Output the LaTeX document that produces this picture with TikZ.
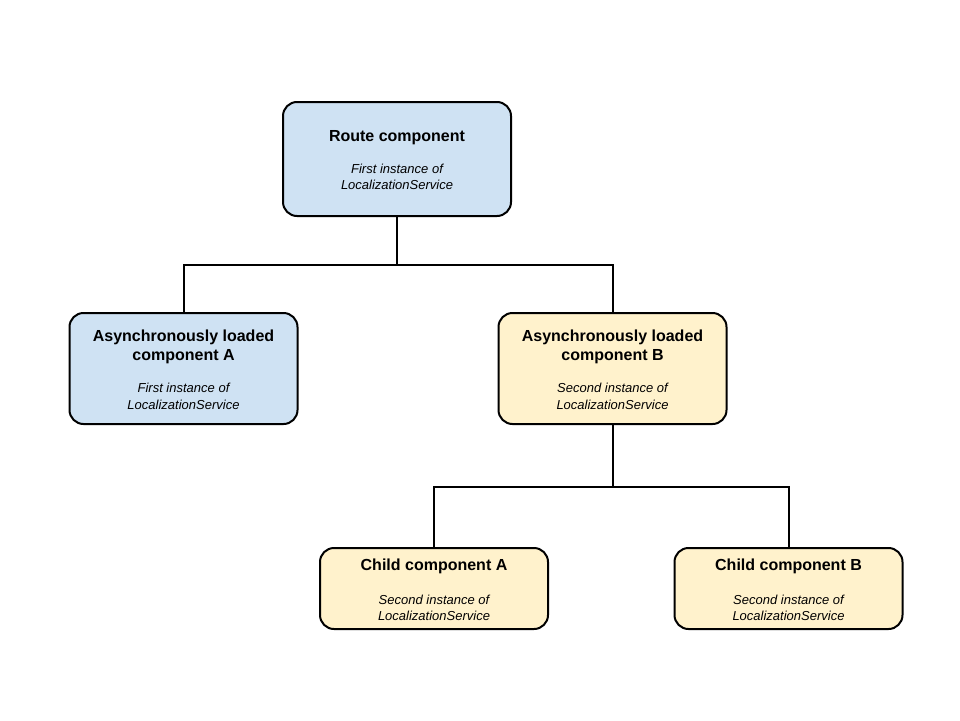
\documentclass[tikz,border=0pt]{standalone}
\usepackage{fontspec}
\setmainfont{Liberation Sans}
\definecolor{paleblue}{HTML}{CFE2F3}
\definecolor{paleyellow}{HTML}{FFF2CC}
\begin{document}
\begin{tikzpicture}[x=1pt,y=-1pt,
  box/.style={draw=black, line width=2pt, rounded corners=14pt,
    minimum width=228pt, inner sep=0pt},
  bluebox/.style={box, fill=paleblue},
  yellowbox/.style={box, fill=paleyellow},
  title/.style={anchor=base, inner sep=0pt,
    font=\fontsize{16}{19}\selectfont\bfseries},
  sub/.style={anchor=base, inner sep=0pt,
    font=\fontsize{13}{16}\selectfont\itshape},
  link/.style={draw=black, line width=2pt, line join=miter}]
\useasboundingbox (0,0) rectangle (960,720);
\fill[white] (0,0) rectangle (960,720);

% boxes
\node[bluebox, minimum height=114pt] (route) at (397,159) {};
\node[bluebox, minimum height=111pt] (asyncA) at (183.5,368.5) {};
\node[yellowbox, minimum height=111pt] (asyncB) at (612.5,368.5) {};
\node[yellowbox, minimum height=81pt] (childA) at (434,588.5) {};
\node[yellowbox, minimum height=81pt] (childB) at (788.5,588.5) {};

% route component text
\node[title] (routeT) at (397,141.5) {Route component};
\node[sub] (routeS1) at (397,173.3) {First instance of};
\node[sub] (routeS2) at (397,189.3) {LocalizationService};

% asynchronously loaded component A
\node[title] (asyncAT1) at (183.5,341.7) {Asynchronously loaded};
\node[title] (asyncAT2) at (183.5,360.7) {component A};
\node[sub] (asyncAS1) at (183.5,392.7) {First instance of};
\node[sub] (asyncAS2) at (183.5,409) {LocalizationService};

% asynchronously loaded component B
\node[title] (asyncBT1) at (612.5,341.7) {Asynchronously loaded};
\node[title] (asyncBT2) at (612.5,360.7) {component B};
\node[sub] (asyncBS1) at (612.5,392.7) {Second instance of};
\node[sub] (asyncBS2) at (612.5,409) {LocalizationService};

% child components
\node[title] (childAT) at (434,570.7) {Child component A};
\node[sub] (childAS1) at (434,604.3) {Second instance of};
\node[sub] (childAS2) at (434,620) {LocalizationService};

\node[title] (childBT) at (788.5,570.7) {Child component B};
\node[sub] (childBS1) at (788.5,604.3) {Second instance of};
\node[sub] (childBS2) at (788.5,620) {LocalizationService};

% tree connectors
\coordinate (j1) at (397,265);
\coordinate (j2) at (612.5,487);
\draw[link] (route.south) -- (j1);
\draw[link] (asyncA.north) |- (j1) -| (asyncB.north);
\draw[link] (asyncB.south) -- (j2);
\draw[link] (childA.north) |- (j2) -| (childB.north);
\end{tikzpicture}
\end{document}
